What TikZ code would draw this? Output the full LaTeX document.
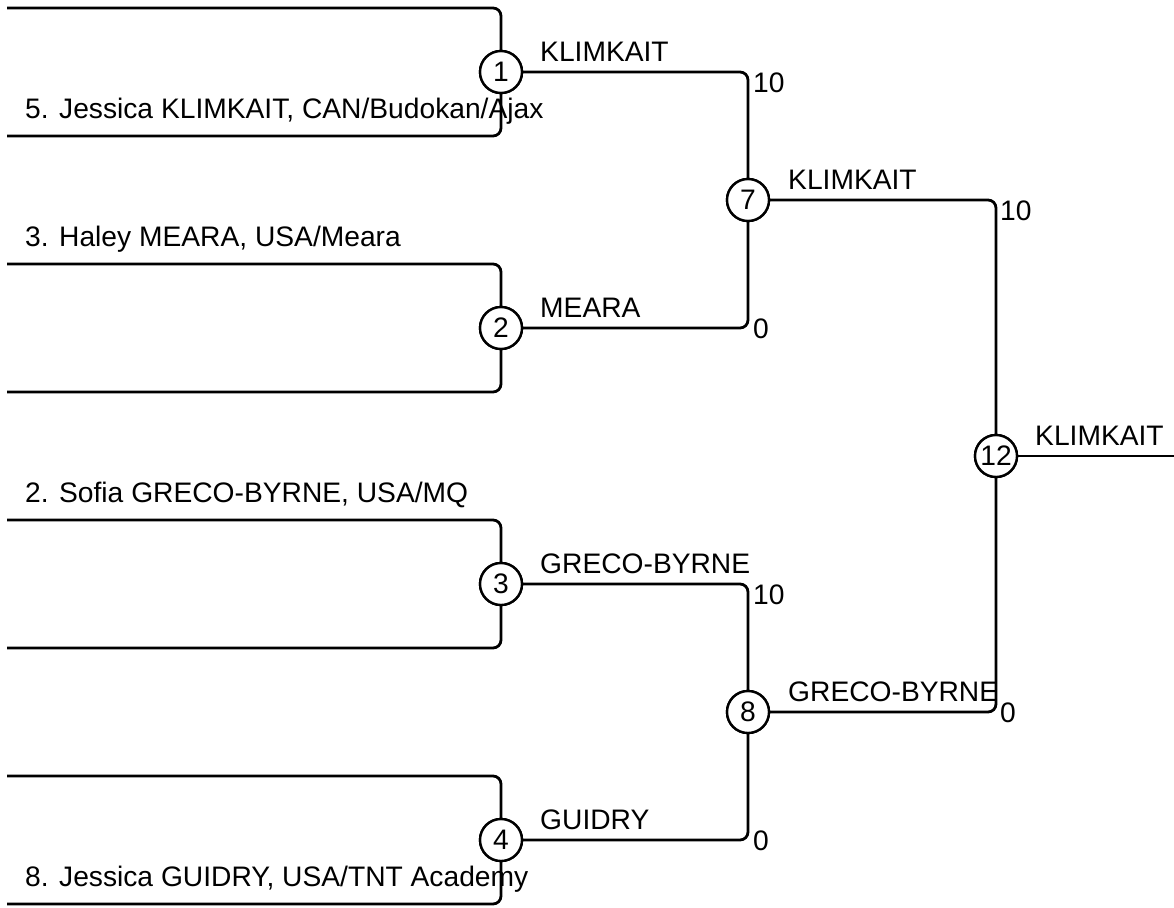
\documentclass[tikz,border=0pt]{standalone}
\usepackage{fontspec}
\setmainfont{Liberation Sans}
\begin{document}
\begin{tikzpicture}[x=1pt,y=-1pt,
  every node/.style={font=\fontsize{28.2}{34}\selectfont},
  br/.style={line width=2.8pt, rounded corners=8pt},
  mnode/.style={draw, circle, fill=white, line width=2.4pt, minimum size=42pt, inner sep=0pt},
  lbl/.style={anchor=base west, inner sep=0pt},
  topscore/.style={anchor=north west, inner sep=0pt},
  botscore/.style={anchor=west, inner sep=0pt}]
\useasboundingbox (0,0) rectangle (1174,907);
% coordinates
\coordinate (m1t) at (7,8);   \coordinate (m1b) at (7,136);
\coordinate (m2t) at (7,264); \coordinate (m2b) at (7,392);
\coordinate (m3t) at (7,520); \coordinate (m3b) at (7,648);
\coordinate (m4t) at (7,776); \coordinate (m4b) at (7,904);
\coordinate (fin) at (1174,456);
% match nodes
\node[mnode] (c1) at (501,72) {1};
\node[mnode] (c2) at (501,328) {2};
\node[mnode] (c3) at (501,584) {3};
\node[mnode] (c4) at (501,840) {4};
\node[mnode] (c7) at (748,200) {7};
\node[mnode] (c8) at (748,712) {8};
\node[mnode] (c12) at (996,456) {12};
% connectors
\draw[br] (m1t) -| (c1);
\draw[br] (m1b) -| (c1);
\draw[br] (m2t) -| (c2);
\draw[br] (m2b) -| (c2);
\draw[br] (m3t) -| (c3);
\draw[br] (m3b) -| (c3);
\draw[br] (m4t) -| (c4);
\draw[br] (m4b) -| (c4);
\draw[br] (c1) -| (c7);
\draw[br] (c2) -| (c7);
\draw[br] (c3) -| (c8);
\draw[br] (c4) -| (c8);
\draw[br] (c7) -| (c12);
\draw[br] (c8) -| (c12);
\draw[br] (c12) -- (fin);
% redraw circles on top
\foreach \n/\t in {c1/1,c2/2,c3/3,c4/4,c7/7,c8/8,c12/12}{
  \node[mnode] at (\n) {\t};
}
% entrant names
\node[lbl] (n1) at (25,118) {5. Jessica KLIMKAIT, CAN/Budokan/Ajax};
\node[lbl] (n2) at (25,246) {3. Haley MEARA, USA/Meara};
\node[lbl] (n3) at (25,502) {2. Sofia GRECO-BYRNE, USA/MQ};
\node[lbl] (n4) at (25,886) {8. Jessica GUIDRY, USA/TNT Academy};
% winners
\node[lbl] (w1) at (540,61) {KLIMKAIT};
\node[lbl] (w2) at (540,317) {MEARA};
\node[lbl] (w3) at (540,573) {GRECO-BYRNE};
\node[lbl] (w4) at (540,829) {GUIDRY};
\node[lbl] (w7) at (788,189) {KLIMKAIT};
\node[lbl] (w8) at (788,701) {GRECO-BYRNE};
\node[lbl] (w12) at (1035,445) {KLIMKAIT};
% scores
\node[topscore] (s1) at (753,73) {10};
\node[botscore] (s2) at (753,329) {0};
\node[topscore] (s3) at (753,585) {10};
\node[botscore] (s4) at (753,841) {0};
\node[topscore] (s7) at (1000,201) {10};
\node[botscore] (s8) at (1000,713) {0};
\end{tikzpicture}
\end{document}
